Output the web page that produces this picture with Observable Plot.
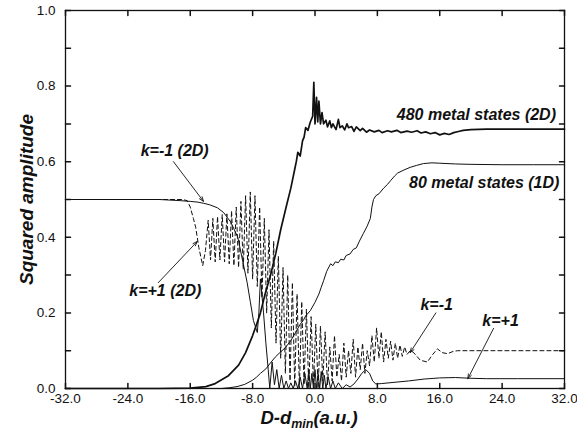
<!DOCTYPE html>
<html><head><meta charset="utf-8">
<script src="https://cdn.jsdelivr.net/npm/d3@7"></script>
<script src="https://cdn.jsdelivr.net/npm/@observablehq/plot@0.6"></script>
<style>
body{margin:0;background:#fff;}
#chart{width:577px;height:432px;}
</style></head><body><div id="chart"></div>
<script>
// ---- tick values ----
const xTicks = [-32, -24, -16, -8, 0, 8, 16, 24, 32];
const yTicks = [0, 0.2, 0.4, 0.6, 0.8, 1.0];
const yMinorTicks = [0, 0.1, 0.2, 0.3, 0.4, 0.5, 0.6, 0.7, 0.8, 0.9, 1.0];

// ---- series: [x, squared amplitude] ----
const s480 = [[-32,0],[-20,0],[-16,0.001],[-14,0.005],[-12.8,0.013],[-11.1,0.034],[-9.8,0.062],[-8.9,0.095],[-8.0,0.14],[-7.4,0.175],[-7.0,0.2],[-6.4,0.25],[-5.7,0.3],[-5.0,0.36],[-4.4,0.42],[-3.7,0.48],[-3.1,0.53],[-2.6,0.58],[-2.4,0.6],[-2.2,0.625],[-1.9,0.615],[-1.6,0.655],[-1.4,0.665],[-1.2,0.69],[-0.9,0.683],[-0.6,0.705],[-0.3,0.72],[-0.15,0.81],[0.0,0.7],[0.2,0.77],[0.35,0.705],[0.5,0.76],[0.7,0.7],[0.9,0.73],[1.1,0.7],[1.4,0.71],[1.6,0.692],[1.9,0.708],[2.1,0.69],[2.3,0.7],[2.7,0.685],[3.0,0.712],[3.2,0.69],[3.5,0.695],[3.8,0.684],[4.1,0.7],[4.3,0.69],[4.7,0.693],[5.0,0.68],[5.3,0.692],[5.8,0.682],[6.1,0.688],[6.6,0.678],[7.0,0.684],[7.6,0.679],[8.2,0.683],[8.6,0.677],[9.3,0.682],[9.8,0.679],[10.5,0.683],[11.0,0.677],[11.8,0.681],[12.4,0.678],[13.1,0.682],[13.6,0.676],[14.2,0.679],[14.8,0.674],[15.4,0.677],[16,0.671],[16.6,0.675],[17.2,0.672],[17.8,0.677],[18.4,0.68],[19,0.683],[20,0.685],[22,0.686],[26,0.686],[32,0.686]];

const s80 = [[-32,0],[-12,0],[-11,0.002],[-10,0.005],[-9,0.011],[-8,0.022],[-7.5,0.03],[-7,0.04],[-6.3,0.052],[-5.7,0.068],[-5.1,0.083],[-4.5,0.095],[-3.8,0.108],[-3.1,0.127],[-2.5,0.148],[-1.9,0.17],[-1.5,0.18],[-1.2,0.192],[-0.6,0.206],[0,0.228],[0.5,0.25],[0.8,0.268],[1.1,0.285],[1.5,0.31],[2.0,0.33],[2.3,0.325],[2.6,0.335],[3.0,0.333],[3.3,0.342],[3.7,0.34],[4.0,0.352],[4.5,0.356],[4.9,0.368],[5.3,0.372],[5.7,0.39],[6.2,0.41],[6.7,0.43],[7.1,0.45],[7.3,0.48],[7.5,0.5],[7.8,0.51],[8.2,0.515],[8.8,0.53],[9.3,0.54],[9.7,0.55],[10.2,0.562],[10.6,0.57],[11.4,0.578],[12.2,0.585],[13,0.59],[13.9,0.595],[15,0.597],[16,0.596],[18,0.594],[20,0.593],[24,0.592],[28,0.592],[32,0.592]];

const sSolidK = [[-32,0.5],[-20,0.5],[-17.3,0.497],[-16,0.495],[-15,0.493],[-14.3,0.49],[-13.5,0.486],[-12.5,0.478],[-11.7,0.465],[-10.8,0.44],[-9.9,0.40],[-9.3,0.34],[-8.7,0.28],[-8.3,0.23],[-7.9,0.18],[-7.4,0.148],[-7.2,0.2],[-7.0,0.29],[-6.6,0.2],[-6.3,0.12],[-6.0,0.05],[-5.8,0.0],[-5.5,0.07],[-5.2,0.01],[-4.9,0.05],[-4.6,0.0],[-4.3,0.035],[-4.0,0.0],[-3.7,0.02],[-3.4,0.0],[-3.1,0.015],[-2.8,0.0],[-2.5,0.02],[-2.2,0.0],[-1.9,0.03],[-1.6,0.0],[-1.3,0.04],[-1.0,0.0],[-0.8,0.05],[-0.6,0.0],[-0.4,0.04],[-0.2,0.0],[0.0,0.05],[0.2,0.0],[0.4,0.04],[0.6,0.0],[0.8,0.045],[1.0,0.0],[1.2,0.035],[1.4,0.0],[1.7,0.03],[2.0,0.0],[2.3,0.02],[2.6,0.0],[3.0,0.015],[3.5,0.0],[4.0,0.01],[4.5,0.004],[5.0,0.012],[5.5,0.025],[6.0,0.04],[6.5,0.05],[7.0,0.04],[7.4,0.02],[7.8,0.012],[8.5,0.013],[10,0.016],[12,0.02],[14,0.025],[16,0.028],[18,0.029],[20,0.027],[22,0.026],[26,0.026],[32,0.026]];

const sDashedK = [[-32,0.5],[-17,0.5],[-16.4,0.497],[-16.0,0.48],[-15.6,0.45],[-15.3,0.426],[-14.9,0.373],[-14.4,0.325],[-14.05,0.365],[-13.7,0.445],[-13.4,0.34],[-13.1,0.45],[-12.8,0.335],[-12.5,0.455],[-12.2,0.34],[-11.9,0.46],[-11.6,0.335],[-11.3,0.462],[-11.0,0.33],[-10.7,0.47],[-10.4,0.325],[-10.1,0.48],[-9.8,0.32],[-9.5,0.495],[-9.2,0.315],[-8.9,0.51],[-8.6,0.305],[-8.3,0.52],[-8.0,0.29],[-7.7,0.51],[-7.4,0.27],[-7.1,0.48],[-6.8,0.24],[-6.5,0.45],[-6.2,0.2],[-5.9,0.42],[-5.6,0.16],[-5.3,0.39],[-5.0,0.12],[-4.7,0.35],[-4.4,0.08],[-4.1,0.32],[-3.8,0.04],[-3.5,0.3],[-3.2,0.02],[-2.9,0.28],[-2.6,0.005],[-2.3,0.25],[-2.0,0],[-1.7,0.23],[-1.4,0.01],[-1.1,0.21],[-0.8,0],[-0.5,0.19],[-0.2,0.01],[0.1,0.17],[0.4,0],[0.7,0.165],[1.0,0.02],[1.3,0.15],[1.6,0.01],[1.9,0.11],[2.2,0.02],[2.5,0.14],[2.8,0.03],[3.1,0.09],[3.4,0.02],[3.7,0.12],[4.0,0.03],[4.3,0.1],[4.6,0.04],[4.9,0.13],[5.2,0.03],[5.5,0.11],[5.8,0.05],[6.1,0.12],[6.4,0.04],[6.7,0.1],[7.0,0.06],[7.3,0.14],[7.6,0.07],[7.9,0.16],[8.2,0.08],[8.5,0.15],[8.8,0.07],[9.1,0.13],[9.4,0.08],[9.7,0.125],[10.0,0.075],[10.3,0.12],[10.6,0.08],[10.9,0.115],[11.2,0.085],[11.5,0.11],[11.8,0.09],[12.2,0.1],[12.6,0.096],[13.5,0.075],[14.4,0.07],[15.1,0.09],[15.7,0.105],[16.3,0.095],[17.0,0.092],[17.7,0.098],[18.3,0.1],[20,0.1],[24,0.1],[32,0.1]];

// ---- annotations ----
const labelText = ["k=-1 (2D)", "k=+1 (2D)", "480 metal states (2D)", "80 metal states (1D)", "k=-1", "k=+1"];
const labelX = [-18.0, -19.2, 20.7, 21.7, 15.6, 23.8];
const labelY = [0.628, 0.259, 0.725, 0.543, 0.222, 0.18];
const arrowFrom = [[-18.15, 0.60], [-20.1, 0.28], [15.5, 0.20], [22.9, 0.159]];
const arrowTo = [[-14.3, 0.495], [-15.1, 0.389], [12.2, 0.095], [19.6, 0.026]];

const pts = s => s.map(([x, y]) => ({x, y}));
const labels = labelText.map((t, i) => ({t, x: labelX[i], y: labelY[i]}));
const arrows = arrowFrom.map((f, i) => ({x1: f[0], y1: f[1], x2: arrowTo[i][0], y2: arrowTo[i][1]}));

const ink = "#111";
const tickShape = {draw(ctx, l) { ctx.moveTo(0, 0); ctx.lineTo(0, -l); }};
const fmt = d => d.toFixed(1);
const bi = {fontWeight: "bold", fontStyle: "italic", fill: ink};

const chart = Plot.plot({
  width: 577, height: 432,
  marginLeft: 65, marginRight: 13, marginTop: 10, marginBottom: 44,
  x: {domain: [-32, 32], label: null},
  y: {domain: [0, 1], label: null},
  style: {fontFamily: "'Liberation Sans', Arial, sans-serif", background: "#fff", color: ink},
  marks: [
    Plot.axisX({ticks: xTicks, tickSize: 0, tickPadding: 5, tickFormat: fmt, fontSize: 13.5, fill: ink}),
    Plot.axisY({ticks: yTicks, tickSize: 0, tickPadding: 10, tickFormat: fmt, fontSize: 13.5, fill: ink}),
    Plot.vector(xTicks, {x: d => d, frameAnchor: "bottom", length: 5, rotate: 0, anchor: "start", shape: tickShape, stroke: ink}),
    Plot.vector(xTicks, {x: d => d, frameAnchor: "top", length: 5, rotate: 180, anchor: "start", shape: tickShape, stroke: ink}),
    Plot.vector(yMinorTicks, {y: d => d, frameAnchor: "left", length: 5, rotate: 90, anchor: "start", shape: tickShape, stroke: ink}),
    Plot.vector(yMinorTicks, {y: d => d, frameAnchor: "right", length: 5, rotate: -90, anchor: "start", shape: tickShape, stroke: ink}),
    Plot.line(pts(s80), {x: "x", y: "y", stroke: ink, strokeWidth: 1}),
    Plot.line(pts(sSolidK), {x: "x", y: "y", stroke: ink, strokeWidth: 1}),
    Plot.line(pts(sDashedK), {x: "x", y: "y", stroke: ink, strokeWidth: 1, strokeDasharray: "4,3"}),
    Plot.line(pts(s480), {x: "x", y: "y", stroke: ink, strokeWidth: 1.7}),
    Plot.arrow(arrows, {x1: "x1", y1: "y1", x2: "x2", y2: "y2", stroke: ink, strokeWidth: 0.9, headLength: 8, headAngle: 40}),
    Plot.text(labels, {x: "x", y: "y", text: "t", fontSize: 16, ...bi}),
    Plot.text(["Squared amplitude"], {frameAnchor: "left", dx: -39, rotate: -90, textAnchor: "middle", lineAnchor: "middle", fontSize: 19, ...bi}),
    Plot.text(["D-dmin(a.u.)"], {frameAnchor: "bottom", dy: 30, dx: -6, textAnchor: "middle", lineAnchor: "middle", fontSize: 18.5, ...bi}),
    Plot.frame({stroke: ink, strokeWidth: 1.3})
  ]
});
document.getElementById("chart").appendChild(chart);

// subscript for the x-axis title
d3.select(chart).selectAll("text").filter(function() { return this.textContent === "D-dmin(a.u.)"; })
  .each(function() {
    const t = d3.select(this);
    t.text(null);
    t.append("tspan").text("D-d");
    t.append("tspan").attr("font-size", 12.5).attr("dy", 3.5).text("min");
    t.append("tspan").attr("dy", -3.5).text("(a.u.)");
  });
</script>
</body></html>
